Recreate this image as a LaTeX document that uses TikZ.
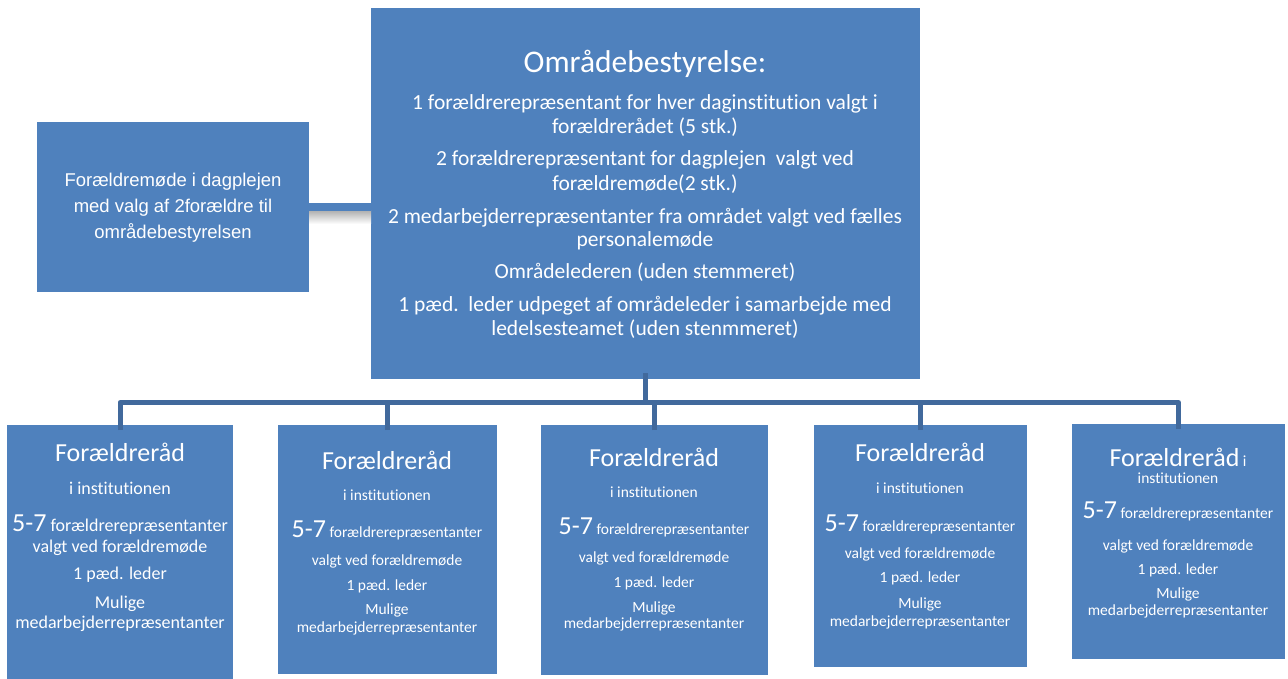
\documentclass[tikz,border=0pt]{standalone}
\usepackage{fontspec}
\setmainfont{Carlito}[Ligatures=NoCommon]
\newfontfamily\arialf{Liberation Sans}
\definecolor{boxblue}{HTML}{4F81BD}
\definecolor{linkblue}{HTML}{41699C}
\begin{document}
\begin{tikzpicture}[x=1pt,y=-1pt,
  box/.style={fill=boxblue, draw=none, inner sep=0pt, outer sep=0pt, anchor=north west},
  txt/.style={text=white, inner sep=0pt, anchor=base},
  ttitle/.style={font=\fontsize{31.5}{37}\selectfont},
  tbody/.style={font=\fontsize{21.5}{25}\selectfont},
  btitle/.style={font=\fontsize{26}{30}\selectfont},
  bbig/.style={font=\fontsize{18}{22}\selectfont},
  bsmall/.style={font=\fontsize{15.5}{19}\selectfont},
  lbody/.style={font=\arialf\fontsize{18.5}{22}\selectfont},
  tree/.style={draw=linkblue, line width=5pt},
  link/.style={draw=boxblue, line width=8pt}]
\useasboundingbox (0,0) rectangle (1288,679);
\fill[white] (0,0) rectangle (1288,679);

% boxes
\node[box, minimum width=549pt, minimum height=371pt] (top) at (371,8) {};
\node[box, minimum width=272pt, minimum height=170pt] (left) at (37,122) {};
\node[box, minimum width=226pt, minimum height=254pt] (b1) at (7,425) {};
\node[box, minimum width=219pt, minimum height=249pt] (b2) at (278,425) {};
\node[box, minimum width=227pt, minimum height=250pt] (b3) at (541,425) {};
\node[box, minimum width=213pt, minimum height=242pt] (b4) at (814,425) {};
\node[box, minimum width=213pt, minimum height=235pt] (b5) at (1072,424) {};

% connector left -> top with shadow
\shade[top color=black!30, bottom color=white] (309,211) rectangle (371,224);
\draw[link] (left.east) -- (top.west |- left.east);

% tree
\coordinate (bus) at (645,402.5);
\draw[tree] ([yshift=6pt]top.south) -- (top.south |- bus);
\draw[tree, line join=round] ([yshift=-5pt]b1.north) -- (b1.north |- bus) -- (b5.north |- bus) -- ([yshift=-5pt]b5.north);
\draw[tree] ([yshift=-5pt]b2.north) -- (b2.north |- bus);
\draw[tree] ([yshift=-5pt]b3.north) -- (b3.north |- bus);
\draw[tree] ([yshift=-5pt]b4.north) -- (b4.north |- bus);

% top box text
\node[txt, ttitle] (t0) at (645,73) {Områdebestyrelse:};
\node[txt, tbody] (t1) at (645,110) {1 forældrerepræsentant for hver daginstitution valgt i};
\node[txt, tbody] (t2) at (645,134) {forældrerådet (5 stk.)};
\node[txt, tbody] (t3) at (645,166) {2 forældrerepræsentant for dagplejen\ \ valgt ved};
\node[txt, tbody] (t4) at (645,191) {forældremøde(2 stk.)};
\node[txt, tbody] (t5) at (645,224) {2 medarbejderrepræsentanter fra området valgt ved fælles};
\node[txt, tbody] (t6) at (645,247) {personalemøde};
\node[txt, tbody] (t7) at (645,278) {Områdelederen (uden stemmeret)};
\node[txt, tbody] (t8) at (645,311) {1 pæd.\ \ leder udpeget af områdeleder i samarbejde med};
\node[txt, tbody] (t9) at (645,335) {ledelsesteamet (uden stenmmeret)};

% left box text
\node[txt, lbody] (l1) at (173,187) {Forældremøde i dagplejen};
\node[txt, lbody] (l2) at (173,213) {med valg af 2forældre til};
\node[txt, lbody] (l3) at (173,239) {områdebestyrelsen};

% box 1
\node[txt, btitle] (a1) at (120,461) {Forældreråd};
\node[txt, bbig] (a2) at (120,494) {i institutionen};
\node[txt, bbig] (a3) at (120,531) {{\fontsize{26}{30}\selectfont 5-7} forældrerepræsentanter};
\node[txt, bbig] (a4) at (120,552) {valgt ved forældremøde};
\node[txt, bbig] (a5) at (120,579) {1 pæd. leder};
\node[txt, bbig] (a6) at (120,608) {Mulige};
\node[txt, bbig] (a7) at (120,628) {medarbejderrepræsentanter};

% box 2
\node[txt, btitle] (c1) at (387,469) {Forældreråd};
\node[txt, bsmall] (c2) at (387,500) {i institutionen};
\node[txt, bsmall] (c3) at (387,537) {{\fontsize{26}{30}\selectfont 5-7} forældrerepræsentanter};
\node[txt, bsmall] (c4) at (387,565) {valgt ved forældremøde};
\node[txt, bsmall] (c5) at (387,590) {1 pæd. leder};
\node[txt, bsmall] (c6) at (387,614) {Mulige};
\node[txt, bsmall] (c7) at (387,632) {medarbejderrepræsentanter};

% box 3
\node[txt, btitle] (d1) at (654,466) {Forældreråd};
\node[txt, bsmall] (d2) at (654,497) {i institutionen};
\node[txt, bsmall] (d3) at (654,534) {{\fontsize{26}{30}\selectfont 5-7} forældrerepræsentanter};
\node[txt, bsmall] (d4) at (654,562) {valgt ved forældremøde};
\node[txt, bsmall] (d5) at (654,587) {1 pæd. leder};
\node[txt, bsmall] (d6) at (654,612) {Mulige};
\node[txt, bsmall] (d7) at (654,628) {medarbejderrepræsentanter};

% box 4
\node[txt, btitle] (e1) at (920,461) {Forældreråd};
\node[txt, bsmall] (e2) at (920,493) {i institutionen};
\node[txt, bsmall] (e3) at (920,531) {{\fontsize{26}{30}\selectfont 5-7} forældrerepræsentanter};
\node[txt, bsmall] (e4) at (920,558) {valgt ved forældremøde};
\node[txt, bsmall] (e5) at (920,582) {1 pæd. leder};
\node[txt, bsmall] (e6) at (920,608) {Mulige};
\node[txt, bsmall] (e7) at (920,626) {medarbejderrepræsentanter};

% box 5
\node[txt, btitle] (f1) at (1178,466) {Forældreråd{\fontsize{15.5}{19}\selectfont\ i}};
\node[txt, bsmall] (f2) at (1178,483) {institutionen};
\node[txt, bsmall] (f3) at (1178,518) {{\fontsize{26}{30}\selectfont 5-7} forældrerepræsentanter};
\node[txt, bsmall] (f4) at (1178,550) {valgt ved forældremøde};
\node[txt, bsmall] (f5) at (1178,574) {1 pæd. leder};
\node[txt, bsmall] (f6) at (1178,598) {Mulige};
\node[txt, bsmall] (f7) at (1178,615) {medarbejderrepræsentanter};
\end{tikzpicture}
\end{document}
